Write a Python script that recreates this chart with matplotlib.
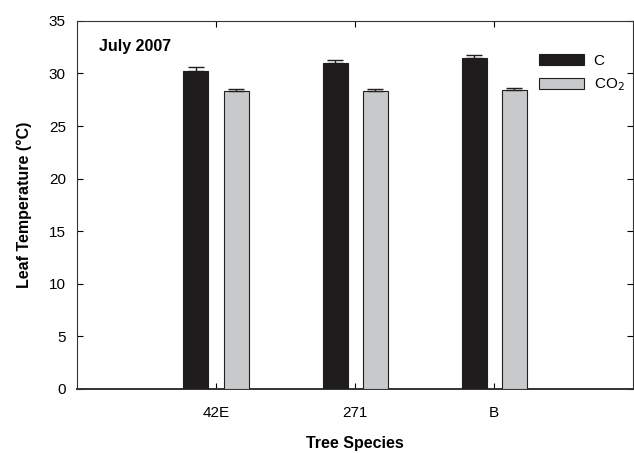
import numpy as np
import matplotlib.pyplot as plt

plt.rcParams['font.family'] = ['Liberation Sans', 'DejaVu Sans']

# Data
species = ['42E', '271', 'B']
temp_c = [30.25, 31.0, 31.5]
err_c = [0.35, 0.27, 0.25]
temp_co2 = [28.3, 28.3, 28.4]
err_co2 = [0.2, 0.2, 0.2]

x = np.arange(1, len(species) + 1)
w = 0.18
off = 0.145

fig = plt.figure(figsize=(6.34, 4.53), dpi=100)
ax = fig.add_axes([0.1215, 0.1413, 0.8775, 0.8127])

ax.bar(x - off, temp_c, w, color='#1f1c1d', edgecolor='#1f1c1d', linewidth=0.8,
       yerr=[np.zeros(3), err_c], error_kw=dict(ecolor='#1f1c1d', capsize=6, elinewidth=1, capthick=1),
       label='C', zorder=3)
ax.bar(x + off, temp_co2, w, color='#c8c9ca', edgecolor='#231f20', linewidth=0.8,
       yerr=[np.zeros(3), err_co2], error_kw=dict(ecolor='#231f20', capsize=6, elinewidth=1, capthick=1),
       label='CO$_2$', zorder=3)

ax.set_xlim(0, 4)
ax.set_ylim(0, 35)
ax.set_xticks(x)
ax.set_xticklabels(species)
ax.set_yticks(np.arange(0, 36, 5))
ax.tick_params(direction='in', length=4, width=0.8, labelsize=11, top=True, right=True, pad=8)
ax.tick_params(axis='x', pad=12)
for s in ax.spines.values():
    s.set_linewidth(0.8)
    s.set_color('#333333')
ax.spines['bottom'].set_linewidth(1.4)

ax.set_xlabel('Tree Species', fontsize=11.5, fontweight='bold', labelpad=12)
ax.set_ylabel('Leaf Temperature (°C)', fontsize=11.5, fontweight='bold', labelpad=12)
ax.text(0.04, 0.93, 'July 2007', transform=ax.transAxes, fontsize=11.5,
        fontweight='bold', va='center', ha='left')

ax.legend(loc='upper left', bbox_to_anchor=(0.831, 0.911), frameon=False, fontsize=11,
          handlelength=2.9, handleheight=0.72, handletextpad=0.65, labelspacing=0.6,
          borderpad=0, borderaxespad=0)

fig.savefig('out.png', dpi=100)
